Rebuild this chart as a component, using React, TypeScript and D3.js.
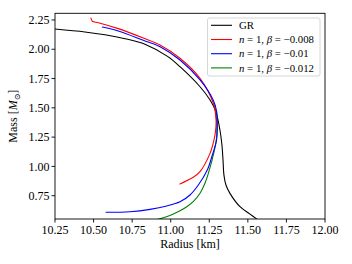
import React from "react";
import * as d3 from "d3";

const xTicks = [10.25, 10.5, 10.75, 11.0, 11.25, 11.5, 11.75, 12.0];
const yTicks = [0.75, 1.0, 1.25, 1.5, 1.75, 2.0, 2.25];

const grR = [10.25, 10.444, 10.574, 10.704, 10.833, 10.982, 11.06, 11.19, 11.255, 11.292, 11.319, 11.332, 11.339, 11.345, 11.358, 11.384, 11.449, 11.514, 11.559];
const grM = [2.173, 2.148, 2.124, 2.09, 2.043, 1.937, 1.851, 1.68, 1.567, 1.47, 1.311, 1.183, 1.054, 0.926, 0.841, 0.77, 0.656, 0.593, 0.55];

const redR = [10.483, 10.492, 10.531, 10.66, 10.822, 10.931, 11.06, 11.19, 11.276, 11.294, 11.287, 11.272, 11.255, 11.19, 11.146, 11.06];
const redM = [2.267, 2.239, 2.227, 2.176, 2.096, 2.037, 1.923, 1.752, 1.539, 1.396, 1.268, 1.182, 1.111, 0.955, 0.907, 0.85];

const blueR = [10.557, 10.66, 10.822, 10.931, 11.06, 11.19, 11.276, 11.298, 11.302, 11.297, 11.268, 11.237, 11.179, 11.125, 11.06, 10.974, 10.866, 10.736, 10.581];
const blueM = [2.19, 2.156, 2.077, 2.022, 1.908, 1.738, 1.565, 1.467, 1.325, 1.225, 1.089, 0.969, 0.841, 0.756, 0.698, 0.662, 0.633, 0.613, 0.608];

const greenR = [11.284, 11.297, 11.297, 11.281, 11.244, 11.222, 11.19, 11.146, 11.104, 11.06, 10.995, 10.942, 10.911];
const greenM = [1.524, 1.396, 1.242, 1.125, 0.941, 0.856, 0.771, 0.699, 0.656, 0.621, 0.581, 0.557, 0.546];

const seriesNames = ["GR", "-0.008", "-0.01", "-0.012"];
const seriesColors = ["#000000", "#ff0000", "#0000ff", "#008000"];

const W = 352, H = 264;
const ml = 55, mr = 325, mt = 13.3, mb = 219;
const FONT = "'Liberation Serif', 'DejaVu Serif', serif";

export default function App() {
  const x = d3.scaleLinear().domain([10.25, 12.0]).range([ml, mr]);
  const y = d3.scaleLinear().domain([0.551, 2.307]).range([mb, mt]);
  const line = d3
    .line<[number, number]>()
    .x((d) => x(d[0]))
    .y((d) => y(d[1]))
    .curve(d3.curveCatmullRom.alpha(0.5));

  const series = [
    { r: grR, m: grM },
    { r: redR, m: redM },
    { r: blueR, m: blueM },
    { r: greenR, m: greenM },
  ];
  const drawOrder = [0, 3, 1, 2];

  const legX = 207.5, legY = 18, legW = 112.5, legH = 58;

  return (
    <div style={{ position: "fixed", left: 0, top: 0 }}>
      <svg width={W} height={H} style={{ display: "block", background: "#fff" }} fontFamily={FONT}>
        <defs>
          <clipPath id="plotclip">
            <rect x={ml} y={mt} width={mr - ml} height={mb - mt} />
          </clipPath>
        </defs>
        <g clipPath="url(#plotclip)">
          {drawOrder.map((i) => {
            const s = series[i];
            const pts = s.r.map((r, k) => [r, s.m[k]] as [number, number]);
            return (
              <path key={i} d={line(pts) || ""} fill="none" stroke={seriesColors[i]} strokeWidth={1.1} strokeLinejoin="round" strokeLinecap="round" />
            );
          })}
        </g>
        <rect x={ml} y={mt} width={mr - ml} height={mb - mt} fill="none" stroke="#000" strokeWidth={0.9} />
        {xTicks.map((t) => (
          <g key={"x" + t}>
            <line x1={x(t)} x2={x(t)} y1={mb} y2={mb + 3.5} stroke="#000" strokeWidth={0.9} />
            <text x={x(t)} y={233.5} textAnchor="middle" fontSize={12}>
              {t.toFixed(2)}
            </text>
          </g>
        ))}
        {yTicks.map((t) => (
          <g key={"y" + t}>
            <line x1={ml - 3.5} x2={ml} y1={y(t)} y2={y(t)} stroke="#000" strokeWidth={0.9} />
            <text x={ml - 5.5} y={y(t)} dy="0.35em" textAnchor="end" fontSize={12}>
              {t.toFixed(2)}
            </text>
          </g>
        ))}
        <text x={(ml + mr) / 2} y={248} textAnchor="middle" fontSize={12}>
          Radius [km]
        </text>
        <text transform={`translate(17,${(mt + mb) / 2}) rotate(-90)`} textAnchor="middle" fontSize={12}>
          Mass [<tspan fontStyle="italic">M</tspan>
          <tspan fontSize={8} dy={3}>⊙</tspan>
          <tspan dy={-3}>]</tspan>
        </text>
        <rect x={legX} y={legY} width={legW} height={legH} rx={2} fill="#fff" fillOpacity={0.8} stroke="#cccccc" strokeWidth={0.8} />
        {seriesNames.map((nm, i) => {
          const yy = 25.3 + i * 14.2;
          return (
            <g key={nm}>
              <line x1={211} x2={232} y1={yy} y2={yy} stroke={seriesColors[i]} strokeWidth={1.1} />
              <text x={239} y={yy} dy="0.35em" fontSize={10.8}>
                {i === 0 ? (
                  "GR"
                ) : (
                  <>
                    <tspan fontStyle="italic">n</tspan>
                    <tspan> = 1, </tspan>
                    <tspan fontStyle="italic">β</tspan>
                    <tspan> = −{nm.slice(1)}</tspan>
                  </>
                )}
              </text>
            </g>
          );
        })}
      </svg>
    </div>
  );
}
